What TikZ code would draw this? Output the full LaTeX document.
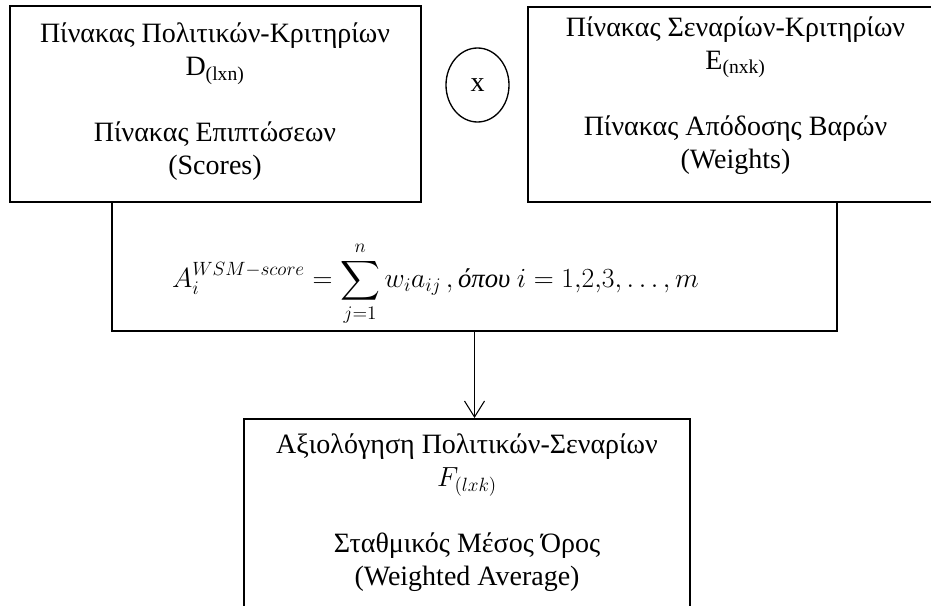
\documentclass[tikz,border=0pt]{standalone}
\usepackage{fontspec}
\usepackage{amsmath}
\setmainfont{Liberation Serif}
\usetikzlibrary{fit,shapes.geometric,arrows.meta}

\begin{document}
\begin{tikzpicture}[x=0.75pt,y=-0.75pt]
\tikzset{
  panel/.style={draw, line width=1.5pt, inner sep=0pt},
  frame/.style={inner sep=0pt},
  txt/.style={align=center, font=\fontsize{21}{24.75}\selectfont},
  op/.style={draw, ellipse, line width=1pt, minimum width=47.25pt, minimum height=55.5pt, inner sep=0pt},
  flow/.style={line width=0.8pt, -{Straight Barb[length=12pt, width=15pt, line width=0.8pt]}}
}
\clip (0,0) rectangle (931,606);

% upper boxes: the two matrices
\node[panel, fit={(9.5,6) (420.5,202)}] (pol) {};
\node[panel, fit={(527.5,7) (944,202)}] (sen) {};
\node[txt] (polt) at (215,102) {Πίνακας Πολιτικών-Κριτηρίων\\ D\textsubscript{(lxn)}\\[24.75pt] Πίνακας Επιπτώσεων\\ (Scores)};
\node[txt] (sent) at (735.5,96) {Πίνακας Σεναρίων-Κριτηρίων\\ E\textsubscript{(nxk)}\\[24.75pt] Πίνακας Απόδοσης Βαρών\\ (Weights)};

% multiplication sign between them
\node[op, font=\fontsize{21}{24}\selectfont] (times) at (477.5,85) {x};

% weighted sum: open-topped frame under the two boxes
\node[frame, fit={(112,202) (837,331)}] (wsm) {};
\draw[line width=1.5pt] (wsm.north west) -- (wsm.south west) -- (wsm.south east) -- (wsm.north east);
\node[font=\fontsize{20}{24}\selectfont] (wsmt) at (435.5,284)
  {$\displaystyle A_i^{WSM-score} = \sum_{j=1}^{n} w_i a_{ij}\,, \text{\textit{όπου}}\ i = 1{,}2{,}3{,}\ldots, m$};

% result box
\node[panel, fit={(244,419) (690,640)}] (res) {};
\node[txt] (rest) at (467,513) {Αξιολόγηση Πολιτικών-Σεναρίων\\ $F_{(lxk)}$\\[24.75pt] Σταθμικός Μέσος Όρος\\ (Weighted Average)};

\draw[flow] (wsm.south) -- (wsm.south |- res.north);
\end{tikzpicture}
\end{document}
